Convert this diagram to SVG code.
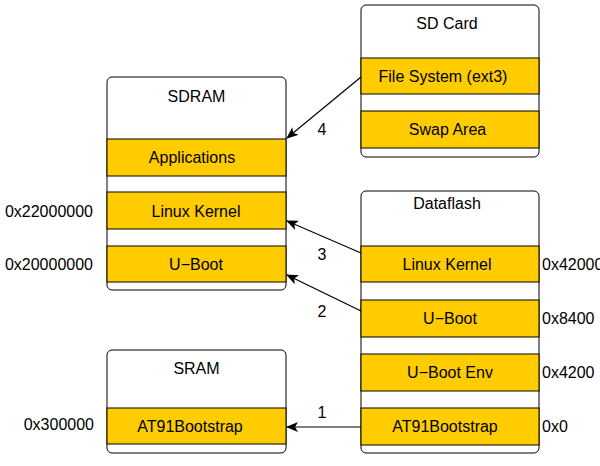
<svg xmlns="http://www.w3.org/2000/svg" width="600" height="466" viewBox="0 0 600 466">
<style>
.box{fill:#fff;stroke:#000;stroke-width:1}
.band{fill:#ffcc00;stroke:#000;stroke-width:1}
text{font-family:"Liberation Sans",Arial,sans-serif;font-size:16px;fill:#000}
.c{text-anchor:middle}
.e{text-anchor:end}
.con{fill:none;stroke:#000;stroke-width:1.2}
</style>
<defs>
<marker id="ah" viewBox="0 0 12 10" refX="11" refY="5" markerWidth="12" markerHeight="10" markerUnits="userSpaceOnUse" orient="auto">
<path d="M0,0 L12,5 L0,10 L3,5 z" fill="#000"/>
</marker>
</defs>
<rect width="600" height="466" fill="#fff"/>
<g id="sdram">
<rect class="box" x="107" y="77" width="179" height="213" rx="5"/>
<text class="c" x="196.5" y="102">SDRAM</text>
<rect class="band" x="107" y="139" width="179" height="37"/>
<text class="c" x="192" y="163">Applications</text>
<rect class="band" x="107" y="192" width="179" height="37"/>
<text class="c" x="196" y="217">Linux Kernel</text>
<rect class="band" x="107" y="246" width="179" height="36"/>
<text class="c" x="196" y="270">U−Boot</text>
</g>
<g id="sdcard">
<rect class="box" x="361" y="5" width="178" height="152" rx="5"/>
<text class="c" x="447" y="29">SD Card</text>
<rect class="band" x="361" y="58" width="178" height="36"/>
<text class="c" x="443" y="82">File System (ext3)</text>
<rect class="band" x="361" y="111" width="178" height="37"/>
<text class="c" x="447.5" y="135">Swap Area</text>
</g>
<g id="dataflash">
<rect class="box" x="361" y="191" width="178" height="262" rx="5"/>
<text class="c" x="447" y="209">Dataflash</text>
<rect class="band" x="361" y="246" width="178" height="36"/>
<text class="c" x="447" y="270">Linux Kernel</text>
<rect class="band" x="361" y="300" width="178" height="37"/>
<text class="c" x="450" y="324">U−Boot</text>
<rect class="band" x="361" y="354" width="178" height="37"/>
<text class="c" x="450" y="378">U−Boot Env</text>
<rect class="band" x="361" y="408" width="178" height="37"/>
<text class="c" x="445" y="432">AT91Bootstrap</text>
</g>
<g id="sram">
<rect class="box" x="107" y="350" width="179" height="103" rx="5"/>
<text class="c" x="196.5" y="374">SRAM</text>
<rect class="band" x="107" y="408" width="179" height="36"/>
<text class="c" x="190" y="432">AT91Bootstrap</text>
</g>
<g id="addresses">
<text class="e" x="93" y="217">0x22000000</text>
<text class="e" x="93" y="270">0x20000000</text>
<text class="e" x="94" y="430">0x300000</text>
<text x="542" y="270">0x42000</text>
<text x="542" y="324">0x8400</text>
<text x="542" y="378">0x4200</text>
<text x="542" y="432">0x0</text>
</g>
<g id="connectors">
<line class="con" x1="361" y1="77" x2="287" y2="138" marker-end="url(#ah)"/>
<line class="con" x1="361" y1="253" x2="287" y2="221" marker-end="url(#ah)"/>
<line class="con" x1="361" y1="311" x2="287" y2="275" marker-end="url(#ah)"/>
<line class="con" x1="361" y1="427" x2="287" y2="427" marker-end="url(#ah)"/>
<text class="c" x="322" y="135">4</text>
<text class="c" x="322" y="260">3</text>
<text class="c" x="322" y="317">2</text>
<text class="c" x="322" y="418">1</text>
</g>
</svg>
